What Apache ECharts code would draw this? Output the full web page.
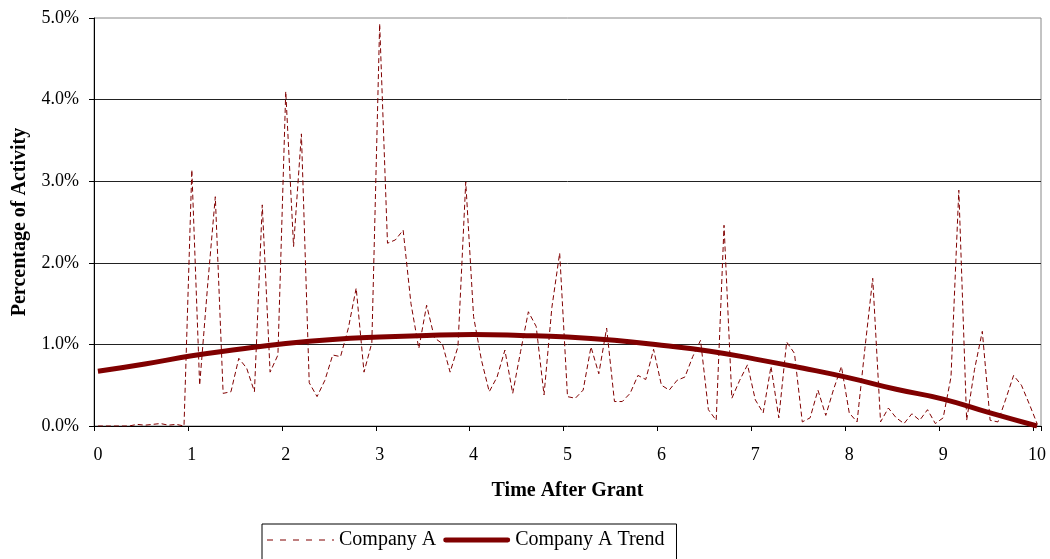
<!DOCTYPE html>
<html><head><meta charset="utf-8">
<script src="https://cdn.jsdelivr.net/npm/echarts@6/dist/echarts.min.js"></script>
<style>html,body{margin:0;padding:0;background:#fff}#c{width:1050px;height:559px}</style>
</head><body><div id="c"></div>
<script>
// Monthly activity (%), month 0..120 (one category per month)
const activity = [
  0, 0, 0, 0, 0, 0.02, 0.01, 0.02, 0.03, 0.01, 0.02, 0.0,
  3.14, 0.50, 1.70, 2.81, 0.40, 0.42, 0.83, 0.71, 0.42, 2.71, 0.66, 0.87,
  4.10, 2.20, 3.58, 0.53, 0.36, 0.56, 0.87, 0.85, 1.20, 1.69, 0.66, 1.02,
  4.93, 2.24, 2.28, 2.40, 1.50, 0.95, 1.48, 1.08, 1.01, 0.66, 0.97, 2.99,
  1.34, 0.81, 0.42, 0.60, 0.93, 0.40, 0.91, 1.40, 1.22, 0.38, 1.45, 2.12,
  0.36, 0.34, 0.44, 0.97, 0.64, 1.20, 0.30, 0.30, 0.40, 0.62, 0.57, 0.94,
  0.50, 0.44, 0.56, 0.60, 0.85, 1.05, 0.20, 0.07, 2.46, 0.34, 0.56, 0.75,
  0.32, 0.16, 0.73, 0.10, 1.03, 0.89, 0.05, 0.10, 0.44, 0.13, 0.45, 0.73,
  0.16, 0.05, 0.95, 1.81, 0.05, 0.22, 0.10, 0.03, 0.15, 0.07, 0.20, 0.03,
  0.10, 0.60, 2.89, 0.07, 0.69, 1.16, 0.07, 0.05, 0.33, 0.62, 0.50, 0.27,
  0.03
];
// Trend (%), sampled every half year (years after grant)
const trendX = [0,0.5,1,1.5,2,2.5,3,3.5,4,4.5,5,5.5,6,6.5,7,7.5,8,8.5,9,9.5,10];
const trendY = [0.67,0.76,0.86,0.94,1.01,1.06,1.09,1.11,1.12,1.11,1.09,1.05,0.99,0.92,0.82,0.71,0.59,0.45,0.33,0.16,0.0];
// month categories; a label every 12 months
const months = activity.map((_, i) => i);
const yTicks = [0,1,2,3,4,5];

const trendData = trendX.map((x,i)=>[x, trendY[i]]);
const red = '#800000';
const font = 'Liberation Serif';

// legend sample shapes
let dashPath = 'path://';
for (let k = 0; k < 5; k++) dashPath += 'M' + (k*13) + ',0h6v1.2h-6z';
dashPath += 'M65,0h2v1.2h-2z';
const thickPath = 'path://M2.5,0h64a2.5,2.5 0 0 1 0,5h-64a2.5,2.5 0 0 1 0,-5z';

const every12 = (idx) => idx % 12 === 0;

const chart = echarts.init(document.getElementById('c'));
chart.setOption({
  animation: false,
  textStyle: {fontFamily: font},
  grid: {left: 94, right: 9, top: 18, bottom: 133, show: true, borderColor: '#888', borderWidth: 1,
         containLabel: false, outerBoundsMode: 'none'},
  xAxis: [{
    type: 'category', data: months, boundaryGap: true,
    name: 'Time After Grant', nameLocation: 'middle', nameGap: 55,
    nameTextStyle: {fontFamily: font, fontWeight: 'bold', fontSize: 20, color: '#000'},
    axisLine: {show: true, onZero: false, lineStyle: {color: '#000', width: 1}},
    axisTick: {show: true, length: 5, inside: false, interval: every12, lineStyle: {color: '#000'}},
    axisLabel: {fontFamily: font, fontSize: 18, color: '#000', margin: 20, interval: every12,
                formatter: v => String(Number(v) / 12)},
    splitLine: {show: false}
  }, {
    type: 'value', min: -1/24, max: 10 + 1/24, show: false
  }],
  yAxis: {
    type: 'value', min: 0, max: 5, interval: 1,
    name: 'Percentage of Activity', nameLocation: 'middle', nameGap: 64, nameRotate: 90,
    nameTextStyle: {fontFamily: font, fontWeight: 'bold', fontSize: 20, color: '#000'},
    axisLine: {show: true, onZero: false, lineStyle: {color: '#000', width: 1}},
    axisTick: {show: true, length: 5, inside: false, lineStyle: {color: '#000'}},
    axisLabel: {fontFamily: font, fontSize: 18, color: '#000', margin: 15,
                formatter: v => yTicks.includes(v) ? v.toFixed(1) + '%' : ''},
    splitLine: {show: true, showMinLine: false, showMaxLine: false, lineStyle: {color: '#222', width: 1}}
  },
  legend: {
    left: 262, top: 524,
    borderColor: '#000', borderWidth: 1, padding: [6, 12, 14, 5],
    itemGap: 7, itemWidth: 67, itemHeight: 6,
    textStyle: {fontFamily: font, fontSize: 20, color: '#000'},
    data: [
      {name: 'Company A', icon: dashPath},
      {name: 'Company A Trend', icon: thickPath}
    ]
  },
  series: [
    {
      name: 'Company A', type: 'line', xAxisIndex: 0, data: activity, symbol: 'none',
      lineStyle: {color: red, width: 1, type: [5, 3]}, itemStyle: {color: red}, z: 2
    },
    {
      name: 'Company A Trend', type: 'line', xAxisIndex: 1, data: trendData, symbol: 'none', smooth: true,
      lineStyle: {color: red, width: 5}, itemStyle: {color: red}, z: 3
    }
  ]
});
</script></body></html>
